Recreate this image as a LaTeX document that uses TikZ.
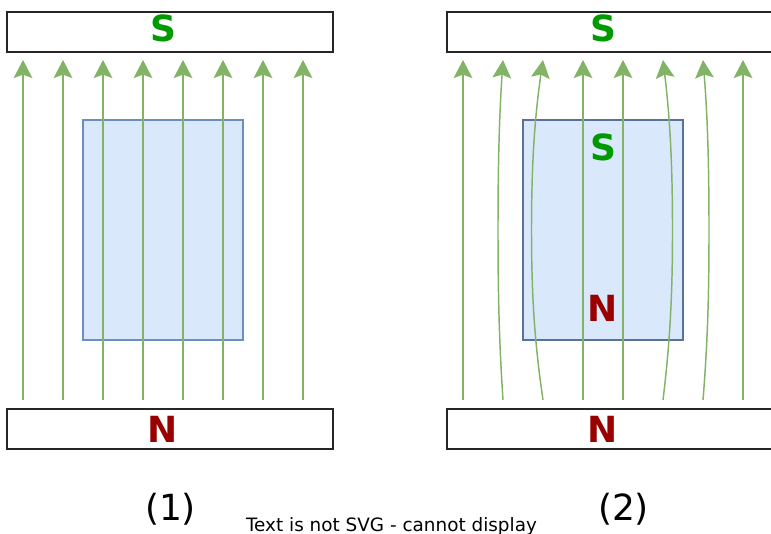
\documentclass[tikz,border=0pt]{standalone}
\usepackage{fontspec}
\setmainfont{DejaVu Sans}
\usetikzlibrary{arrows.meta}
\definecolor{fieldgreen}{HTML}{82B366}
\definecolor{boxfill}{HTML}{DAE8FC}
\definecolor{boxedge}{HTML}{6C8EBF}
\definecolor{boxedgedark}{HTML}{5A7299}
\definecolor{sgreen}{HTML}{009900}
\definecolor{nred}{HTML}{990000}
\tikzset{
  magnet/.style={draw=black!85, line width=1.125pt, fill=white, minimum width=244.5pt, minimum height=30pt, inner sep=0pt, outer sep=0pt},
  core/.style={fill=boxfill, line width=1.125pt, minimum width=120pt, minimum height=165pt, inner sep=0pt, outer sep=0pt},
  pole/.style={font=\fontsize{27}{27}\selectfont\bfseries, inner sep=0pt},
  spole/.style={pole, text=sgreen},
  npole/.style={pole, text=nred},
  field/.style={draw=fieldgreen, line width=1.1pt, -{Stealth[length=13.5pt, width=14pt, inset=2.5pt]}},
  caption/.style={font=\fontsize{27}{27}\selectfont, inner sep=0pt},
  note/.style={font=\fontsize{13.8}{13.8}\selectfont, inner sep=0pt, anchor=base}
}
\begin{document}
\begin{tikzpicture}[x=0.75pt, y=-0.75pt]
\useasboundingbox (0,0) rectangle (771,533);
\fill[white] (0,0) rectangle (771,533);

% ---------- panel 1 ----------
\node[magnet] (topL) at (170,32) {};
\node[magnet] (botL) at (170,429) {};
\node[spole] (topLs) at (163,28) {S};
\node[npole] (botLn) at (163,429) {N};
\node[core, draw=boxedge] (coreL) at (163,230) {};
\foreach \i in {0,...,7}{
  \coordinate (lb\i) at (23+40*\i,400);
  \coordinate (lt\i) at (23+40*\i,60);
  \draw[field] (lb\i) -- (lt\i);
}

% ---------- panel 2 ----------
\node[magnet] (topR) at (610,32) {};
\node[magnet] (botR) at (610,429) {};
\node[spole] (topRs) at (603,28) {S};
\node[npole] (botRn) at (603,429) {N};
\node[core, draw=boxedgedark] (coreR) at (603,230) {};
\node[spole] (coreRs) at (603,147) {S};
\node[npole] (coreRn) at (603,308) {N};
\foreach \i in {0,...,7}{
  \coordinate (rb\i) at (463+40*\i,400);
  \coordinate (rt\i) at (463+40*\i,60);
}
\draw[field] (rb0) -- (rt0);
\draw[field] (rb1) .. controls (499.4,345) and (498,300) .. (498,230) .. controls (498,160) and (499.4,115) .. (rt1);
\draw[field] (rb2) .. controls (535,345) and (531.5,300) .. (531.5,230) .. controls (531.5,160) and (535,115) .. (rt2);
\draw[field] (rb3) -- (rt3);
\draw[field] (rb4) -- (rt4);
\draw[field] (rb5) .. controls (669.6,345) and (672.5,300) .. (672.5,230) .. controls (672.5,160) and (669.6,115) .. (rt5);
\draw[field] (rb6) .. controls (707.4,345) and (709,300) .. (709,230) .. controls (709,160) and (707.4,115) .. (rt6);
\draw[field] (rb7) -- (rt7);

% ---------- captions ----------
\node[caption] (cap1) at (170.5,509) {(1)};
\node[caption] (cap2) at (623.5,509) {(2)};
\node[note] (warn) at (391.5,531.5) {Text is not SVG - cannot display};
\end{tikzpicture}
\end{document}
